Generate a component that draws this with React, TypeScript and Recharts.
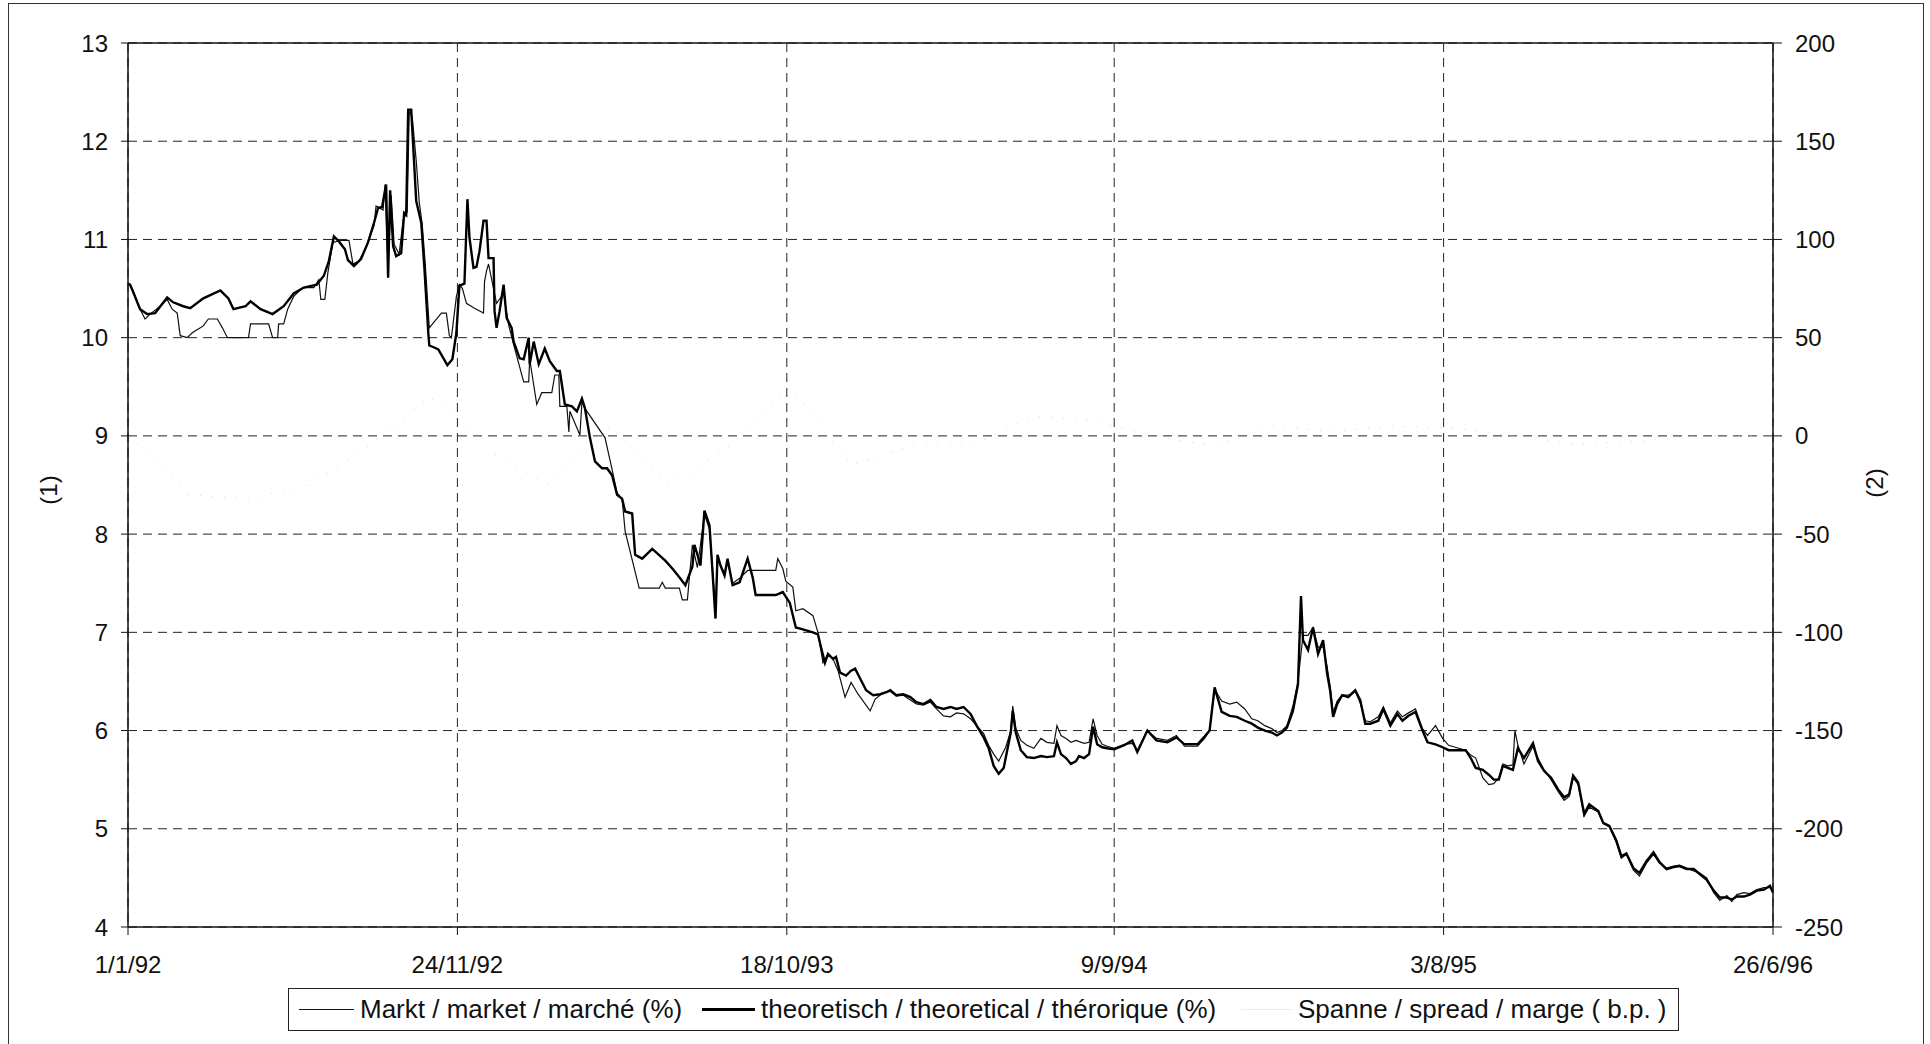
import React from "react";
import {
  LineChart,
  Line,
  XAxis,
  YAxis,
  CartesianGrid,
  ReferenceLine
} from "recharts";

const FONT = '"Liberation Sans", Arial, Helvetica, sans-serif';

// x axis: days since 1/1/92
const tickDays = [0, 328, 656, 982, 1310, 1638];
const tickLabels = ["1/1/92", "24/11/92", "18/10/93", "9/9/94", "3/8/95", "26/6/96"];
const leftTicks = [4, 5, 6, 7, 8, 9, 10, 11, 12, 13];
const rightTicks = [-250, -200, -150, -100, -50, 0, 50, 100, 150, 200];

// theoretisch / theoretical (%) : [day, rate]
const theoretical: [number, number][] = [
  [0, 10.55], [2, 10.54], [5, 10.47], [12, 10.29], [19, 10.24], [27, 10.25], [39, 10.41], [45, 10.36],
  [55, 10.32], [62, 10.3], [75, 10.4], [92, 10.48], [100, 10.4], [105, 10.29], [117, 10.32], [122, 10.37],
  [132, 10.29], [144, 10.24], [155, 10.32], [165, 10.45], [175, 10.51], [188, 10.54], [195, 10.63], [200, 10.78],
  [205, 11.03], [210, 10.98], [216, 10.9], [219, 10.79], [225, 10.73], [232, 10.8], [239, 10.97], [245, 11.17],
  [249, 11.32], [253, 11.33], [257, 11.56], [259, 10.61], [261, 11.5], [264, 10.93], [267, 10.83], [272, 10.86],
  [275, 11.27], [277, 11.25], [279, 12.32], [282, 12.32], [287, 11.39], [292, 11.17], [295, 10.73], [299, 10.05],
  [300, 9.92], [305, 9.9], [309, 9.88], [318, 9.72], [323, 9.78], [327, 10.05], [330, 10.53], [335, 10.55],
  [338, 11.41], [340, 11.02], [344, 10.71], [347, 10.72], [350, 10.88], [354, 11.19], [357, 11.19], [359, 10.81],
  [364, 10.81], [365, 10.27], [367, 10.1], [370, 10.27], [374, 10.54], [377, 10.2], [382, 10.1], [384, 9.96],
  [390, 9.79], [394, 9.78], [399, 10.0], [400, 9.73], [404, 9.96], [409, 9.73], [415, 9.89], [420, 9.76],
  [427, 9.66], [430, 9.66], [435, 9.32], [442, 9.3], [447, 9.25], [452, 9.38], [455, 9.28], [460, 8.98],
  [465, 8.74], [472, 8.67], [477, 8.67], [482, 8.6], [487, 8.4], [492, 8.36], [495, 8.23], [502, 8.21],
  [505, 7.79], [512, 7.75], [522, 7.85], [535, 7.73], [542, 7.65], [549, 7.56], [555, 7.48], [562, 7.67],
  [564, 7.89], [567, 7.79], [570, 7.68], [574, 8.24], [579, 8.09], [582, 7.62], [585, 7.14], [587, 7.79],
  [590, 7.68], [594, 7.58], [597, 7.75], [602, 7.48], [609, 7.51], [617, 7.75], [622, 7.56], [625, 7.38],
  [645, 7.38], [652, 7.41], [659, 7.3], [665, 7.05], [672, 7.03], [682, 7.0], [687, 6.98], [690, 6.85],
  [694, 6.69], [697, 6.78], [702, 6.73], [705, 6.75], [709, 6.59], [715, 6.56], [720, 6.61], [724, 6.63],
  [729, 6.53], [735, 6.41], [742, 6.36], [749, 6.37], [755, 6.39], [759, 6.41], [765, 6.36], [772, 6.37],
  [779, 6.34], [785, 6.29], [792, 6.27], [799, 6.31], [805, 6.24], [812, 6.22], [819, 6.24], [825, 6.22],
  [832, 6.24], [839, 6.17], [845, 6.05], [852, 5.93], [857, 5.82], [862, 5.64], [867, 5.56], [872, 5.62],
  [879, 5.98], [881, 6.2], [884, 5.98], [889, 5.8], [895, 5.73], [902, 5.72], [909, 5.74], [915, 5.73],
  [922, 5.74], [925, 5.88], [929, 5.76], [934, 5.72], [939, 5.66], [944, 5.69], [947, 5.74], [952, 5.72],
  [957, 5.76], [961, 6.04], [965, 5.86], [970, 5.83], [975, 5.82], [982, 5.81], [992, 5.85], [1000, 5.9],
  [1005, 5.78], [1015, 6.0], [1024, 5.9], [1035, 5.88], [1044, 5.93], [1052, 5.86], [1065, 5.86], [1072, 5.94],
  [1077, 6.0], [1082, 6.44], [1089, 6.19], [1097, 6.15], [1104, 6.14], [1112, 6.1], [1119, 6.07], [1125, 6.03],
  [1132, 6.0], [1139, 5.98], [1144, 5.95], [1149, 5.98], [1154, 6.03], [1160, 6.2], [1165, 6.47], [1168, 7.37],
  [1170, 6.92], [1175, 6.82], [1180, 7.05], [1185, 6.78], [1190, 6.92], [1194, 6.58], [1197, 6.41], [1200, 6.14],
  [1204, 6.27], [1209, 6.36], [1215, 6.34], [1222, 6.41], [1227, 6.31], [1232, 6.07], [1237, 6.07], [1245, 6.1],
  [1250, 6.22], [1257, 6.05], [1264, 6.17], [1269, 6.1], [1275, 6.15], [1282, 6.19], [1289, 6.0], [1294, 5.88],
  [1302, 5.86], [1309, 5.83], [1315, 5.8], [1325, 5.8], [1332, 5.8], [1337, 5.72], [1342, 5.62], [1349, 5.6],
  [1355, 5.55], [1360, 5.5], [1365, 5.5], [1369, 5.64], [1374, 5.62], [1379, 5.6], [1384, 5.82], [1390, 5.72],
  [1399, 5.87], [1404, 5.69], [1410, 5.59], [1417, 5.52], [1424, 5.4], [1430, 5.32], [1435, 5.35], [1439, 5.54],
  [1444, 5.47], [1450, 5.15], [1455, 5.25], [1464, 5.18], [1469, 5.06], [1475, 5.03], [1482, 4.88], [1487, 4.72],
  [1492, 4.75], [1499, 4.6], [1505, 4.55], [1512, 4.67], [1519, 4.76], [1525, 4.66], [1532, 4.59], [1539, 4.61],
  [1545, 4.62], [1552, 4.59], [1559, 4.59], [1565, 4.54], [1572, 4.48], [1579, 4.37], [1585, 4.3], [1592, 4.3],
  [1597, 4.28], [1602, 4.31], [1609, 4.31], [1615, 4.33], [1622, 4.37], [1629, 4.38], [1635, 4.42], [1638, 4.35]
];

// Markt / market (%) : [day, rate]
const market: [number, number][] = [
  [0, 10.55], [2, 10.54], [12, 10.29], [17, 10.19], [22, 10.24], [32, 10.32], [39, 10.39], [44, 10.29],
  [49, 10.25], [52, 10.02], [59, 10.0], [64, 10.05], [72, 10.1], [75, 10.12], [80, 10.19], [89, 10.19],
  [94, 10.1], [99, 10.0], [120, 10.0], [122, 10.14], [140, 10.14], [144, 10.0], [149, 10.0], [150, 10.14],
  [155, 10.14], [159, 10.29], [165, 10.42], [174, 10.51], [185, 10.51], [190, 10.59], [192, 10.39], [196, 10.39],
  [199, 10.66], [204, 10.97], [212, 10.99], [220, 10.99], [224, 10.75], [230, 10.78], [237, 10.92], [245, 11.14],
  [247, 11.34], [254, 11.3], [256, 11.56], [259, 10.7], [262, 11.45], [265, 10.95], [270, 10.85], [274, 11.2],
  [278, 11.28], [280, 12.3], [283, 12.25], [287, 11.8], [290, 11.38], [293, 11.15], [296, 10.75], [300, 10.1],
  [304, 10.15], [308, 10.2], [312, 10.25], [317, 10.25], [320, 10.02], [322, 10.0], [327, 10.42], [330, 10.54],
  [333, 10.5], [337, 10.35], [345, 10.3], [354, 10.25], [355, 10.57], [357, 10.68], [359, 10.75], [367, 10.35],
  [374, 10.45], [379, 10.13], [384, 9.93], [394, 9.55], [399, 9.55], [400, 9.78], [407, 9.32], [412, 9.44],
  [422, 9.44], [425, 9.62], [429, 9.62], [430, 9.3], [437, 9.3], [439, 9.04], [440, 9.25], [450, 9.01],
  [452, 9.35], [455, 9.28], [475, 8.98], [482, 8.66], [487, 8.42], [492, 8.36], [495, 8.03], [509, 7.45],
  [529, 7.45], [532, 7.51], [535, 7.45], [549, 7.45], [552, 7.33], [557, 7.33], [562, 7.89], [567, 7.66],
  [574, 8.2], [579, 8.05], [582, 7.65], [585, 7.2], [587, 7.75], [594, 7.6], [597, 7.72], [602, 7.5],
  [609, 7.55], [617, 7.63], [645, 7.63], [647, 7.75], [652, 7.65], [655, 7.52], [662, 7.46], [665, 7.22],
  [672, 7.24], [682, 7.17], [687, 7.0], [692, 6.69], [697, 6.78], [702, 6.73], [707, 6.61], [714, 6.34],
  [720, 6.49], [727, 6.37], [739, 6.2], [744, 6.32], [750, 6.37], [759, 6.4], [765, 6.35], [772, 6.36],
  [779, 6.31], [785, 6.27], [792, 6.26], [799, 6.29], [805, 6.22], [812, 6.15], [819, 6.14], [825, 6.18],
  [832, 6.17], [839, 6.12], [845, 6.05], [852, 5.97], [857, 5.85], [862, 5.76], [867, 5.69], [874, 5.83],
  [879, 6.0], [881, 6.25], [884, 6.02], [889, 5.9], [895, 5.85], [902, 5.82], [909, 5.92], [915, 5.88],
  [922, 5.87], [925, 6.05], [929, 5.95], [934, 5.92], [939, 5.88], [944, 5.9], [952, 5.87], [957, 5.88],
  [961, 6.12], [965, 5.95], [970, 5.86], [975, 5.84], [982, 5.82], [992, 5.86], [1000, 5.87], [1005, 5.8],
  [1015, 6.0], [1024, 5.92], [1035, 5.9], [1044, 5.95], [1052, 5.84], [1065, 5.84], [1072, 5.92], [1077, 6.0],
  [1082, 6.42], [1089, 6.3], [1097, 6.27], [1104, 6.29], [1112, 6.22], [1119, 6.12], [1125, 6.1], [1132, 6.05],
  [1139, 6.02], [1144, 5.98], [1149, 6.0], [1154, 6.05], [1160, 6.25], [1165, 6.5], [1170, 6.97], [1175, 6.97],
  [1180, 7.05], [1185, 6.85], [1190, 6.85], [1194, 6.65], [1197, 6.45], [1200, 6.18], [1204, 6.3], [1209, 6.36],
  [1215, 6.36], [1222, 6.4], [1227, 6.28], [1232, 6.1], [1237, 6.09], [1245, 6.14], [1250, 6.24], [1257, 6.08],
  [1264, 6.2], [1269, 6.14], [1275, 6.18], [1282, 6.22], [1289, 6.02], [1294, 5.95], [1302, 6.05], [1309, 5.92],
  [1315, 5.85], [1325, 5.82], [1332, 5.8], [1337, 5.75], [1342, 5.72], [1349, 5.52], [1355, 5.45], [1360, 5.46],
  [1365, 5.52], [1369, 5.66], [1374, 5.64], [1379, 5.65], [1381, 6.0], [1384, 5.85], [1390, 5.66], [1399, 5.84],
  [1404, 5.72], [1410, 5.6], [1417, 5.5], [1424, 5.38], [1430, 5.29], [1435, 5.33], [1439, 5.52], [1444, 5.45],
  [1450, 5.13], [1455, 5.22], [1464, 5.17], [1469, 5.05], [1475, 5.02], [1482, 4.86], [1487, 4.7], [1492, 4.74],
  [1499, 4.58], [1505, 4.52], [1512, 4.65], [1519, 4.74], [1525, 4.65], [1532, 4.6], [1539, 4.62], [1545, 4.63],
  [1552, 4.6], [1559, 4.57], [1565, 4.55], [1572, 4.5], [1579, 4.35], [1585, 4.27], [1592, 4.32], [1597, 4.26],
  [1602, 4.33], [1609, 4.35], [1615, 4.34], [1622, 4.38], [1629, 4.4], [1635, 4.4], [1638, 4.36]
];

// Spanne / spread (b.p.), barely visible in the scan
const spread: [number, number][] = [
  [0, 0], [60, -30], [120, -32], [180, -25], [240, -5], [300, 20], [360, -8], [420, -25],
  [480, 5], [540, -25], [600, -5], [660, 25], [720, -15], [780, -5], [840, -5], [900, 10],
  [960, 8], [1020, 0], [1080, -5], [1140, 5], [1200, 2], [1260, 5], [1320, 4], [1380, 0],
  [1440, -4], [1500, -3], [1560, 0], [1638, 0]
];

type Row = { day: number; market?: number; theoretical?: number; spread?: number };

function buildRows(): Row[] {
  const m = new Map<number, Row>();
  const put = (list: [number, number][], key: "market" | "theoretical" | "spread") => {
    list.forEach(([d, v]) => {
      const r = m.get(d) || { day: d };
      r[key] = v;
      m.set(d, r);
    });
  };
  put(theoretical, "theoretical");
  put(market, "market");
  put(spread, "spread");
  return Array.from(m.values()).sort((a, b) => a.day - b.day);
}

const rows = buildRows();

const tickStyle = { fill: "#111", fontSize: 24, fontFamily: FONT };

export default function App() {
  return (
    <div
      style={{
        position: "absolute",
        left: 0,
        top: 0,
        width: 1930,
        height: 1044,
        background: "#fff",
        fontFamily: FONT,
        overflow: "hidden"
      }}
    >
      <div
        style={{
          position: "absolute",
          left: 8,
          top: 3,
          width: 1916,
          height: 1060,
          border: "1.5px solid #333",
          boxSizing: "border-box"
        }}
      />

      <div style={{ position: "absolute", left: 0, top: 0 }}>
        <LineChart
          width={1930}
          height={1044}
          data={rows}
          margin={{ top: 43, right: 0, bottom: 77, left: 0 }}
        >
          <CartesianGrid yAxisId="left" stroke="#222" strokeDasharray="9 6" />
          <XAxis
            dataKey="day"
            type="number"
            domain={[0, 1638]}
            ticks={tickDays}
            interval={0}
            height={40}
            tickSize={8}
            tickMargin={21}
            tick={tickStyle}
            tickFormatter={(v: number) => tickLabels[tickDays.indexOf(v)] ?? ""}
            axisLine={{ stroke: "#111", strokeWidth: 1.5 }}
            tickLine={{ stroke: "#111" }}
          />
          <YAxis
            yAxisId="left"
            domain={[4, 13]}
            ticks={leftTicks}
            interval={0}
            width={128}
            tickSize={7}
            tickMargin={13}
            tick={tickStyle}
            axisLine={{ stroke: "#111", strokeWidth: 1.5 }}
            tickLine={{ stroke: "#111" }}
          />
          <YAxis
            yAxisId="right"
            orientation="right"
            domain={[-250, 200]}
            ticks={rightTicks}
            interval={0}
            width={157}
            tickSize={9}
            tickMargin={13}
            tick={tickStyle}
            axisLine={{ stroke: "#111", strokeWidth: 1.5 }}
            tickLine={{ stroke: "#111" }}
          />
          <ReferenceLine yAxisId="left" y={13} stroke="#111" strokeWidth={1.5} />
          <Line
            yAxisId="right"
            dataKey="spread"
            stroke="#d6d6d6"
            strokeWidth={1}
            strokeDasharray="1 11"
            dot={false}
            connectNulls
            isAnimationActive={false}
          />
          <Line
            yAxisId="left"
            dataKey="market"
            stroke="#111"
            strokeWidth={1.2}
            dot={false}
            connectNulls
            isAnimationActive={false}
          />
          <Line
            yAxisId="left"
            dataKey="theoretical"
            stroke="#000"
            strokeWidth={2.4}
            dot={false}
            connectNulls
            isAnimationActive={false}
          />
        </LineChart>
      </div>

      {/* axis titles */}
      <div
        style={{
          position: "absolute",
          left: 49,
          top: 490,
          fontSize: 24,
          color: "#111",
          transform: "translate(-50%, -50%) rotate(-90deg)",
          whiteSpace: "nowrap"
        }}
      >
        (1)
      </div>
      <div
        style={{
          position: "absolute",
          left: 1875,
          top: 483,
          fontSize: 24,
          color: "#111",
          transform: "translate(-50%, -50%) rotate(-90deg)",
          whiteSpace: "nowrap"
        }}
      >
        (2)
      </div>

      {/* legend */}
      <div
        style={{
          position: "absolute",
          left: 288,
          top: 988,
          width: 1391,
          height: 43,
          border: "1.5px solid #222",
          boxSizing: "border-box",
          fontSize: 26,
          color: "#111",
          lineHeight: "40px",
          whiteSpace: "nowrap"
        }}
      >
        <div style={{ position: "absolute", left: 10, top: 20, width: 55, height: 1.3, background: "#111" }} />
        <div style={{ position: "absolute", left: 71, top: 0 }}>Markt / market / marché (%)</div>
        <div style={{ position: "absolute", left: 413, top: 19, width: 53, height: 2.6, background: "#000" }} />
        <div style={{ position: "absolute", left: 472, top: 0 }}>theoretisch / theoretical / thérorique (%)</div>
        <div style={{ position: "absolute", left: 952, top: 20, width: 52, height: 1, background: "#eee" }} />
        <div style={{ position: "absolute", left: 1009, top: 0 }}>Spanne / spread / marge ( b.p. )</div>
      </div>
    </div>
  );
}
